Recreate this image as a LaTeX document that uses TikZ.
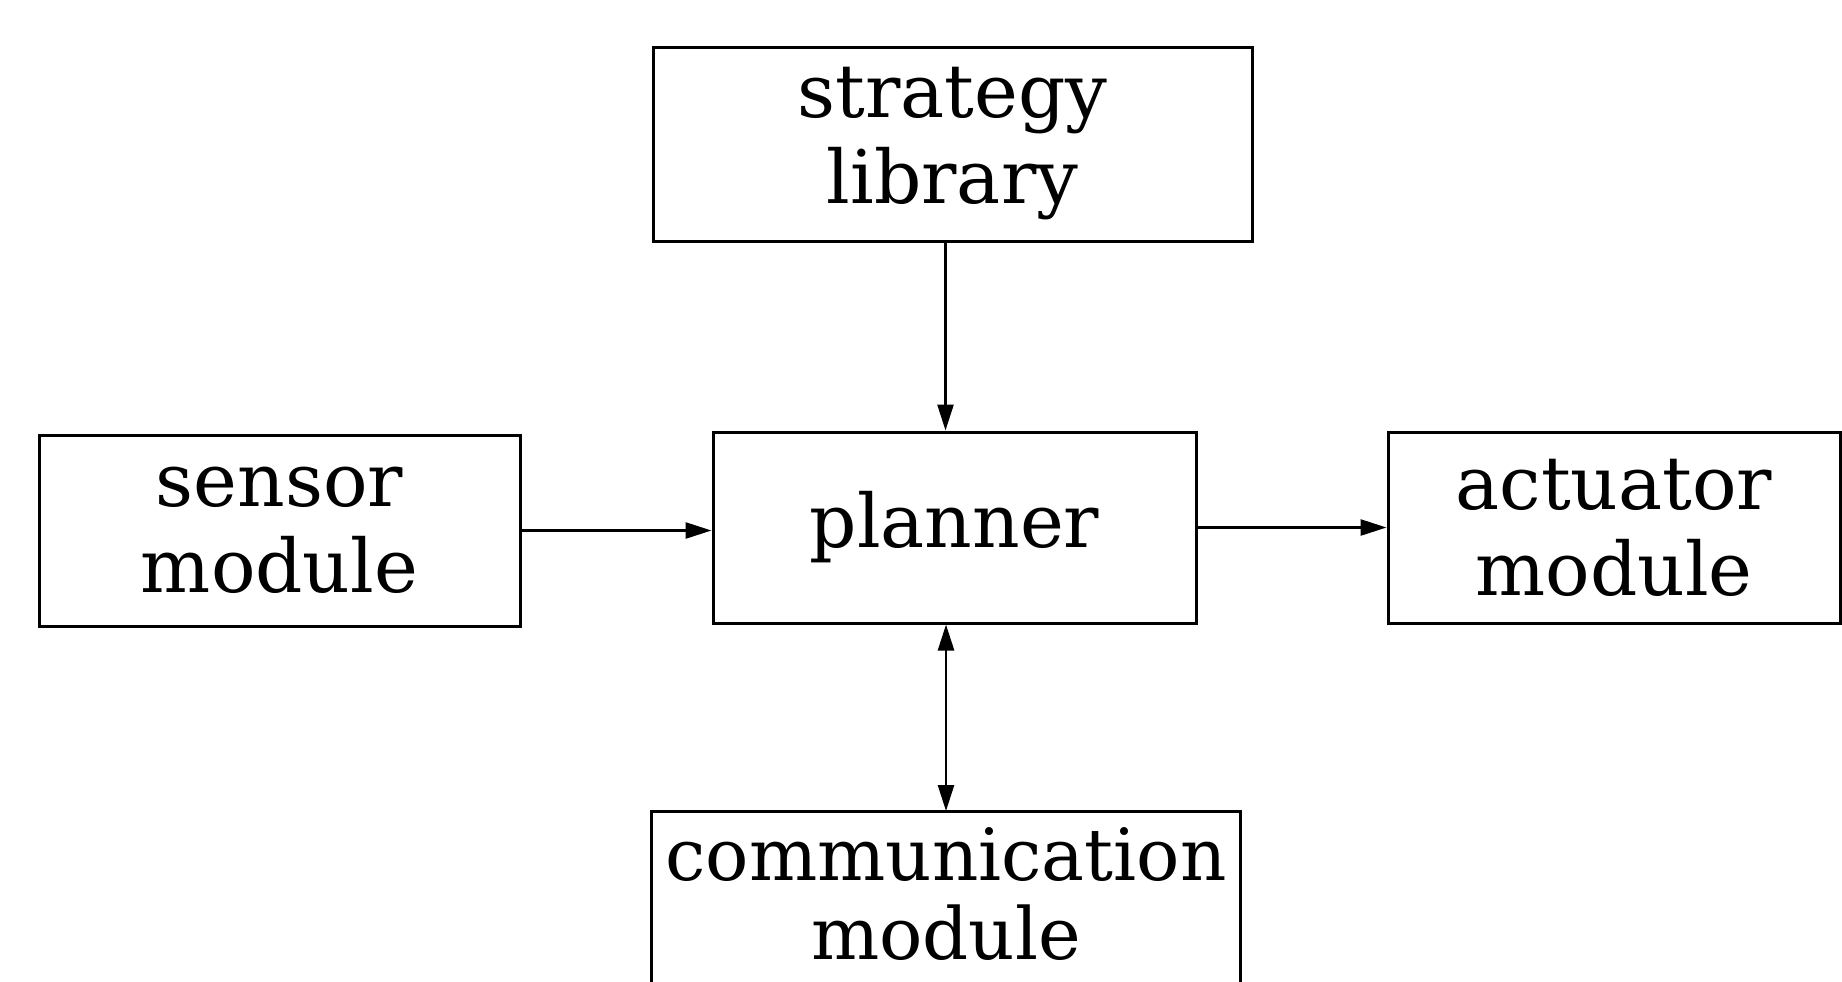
\documentclass[tikz,border=0pt]{standalone}
\usepackage{fontspec}
\setmainfont{DejaVu Serif}
\usetikzlibrary{arrows.meta}
\begin{document}
\begin{tikzpicture}[x=0.5pt,y=-0.5pt,
  box/.style={draw=black,line width=1.5pt,align=center,inner sep=0pt,
    font=\fontsize{37}{43}\selectfont},
  arr/.style={line width=1.3pt,-{Triangle[length=13pt,width=8pt]}},
  darr/.style={line width=1.3pt,{Triangle[length=13pt,width=8pt]}-{Triangle[length=13pt,width=8pt]}}]
\useasboundingbox (0,0) rectangle (1842,981);
\begin{scope}
\clip (0,0) rectangle (1842,981);
\node[box,minimum width=599*0.5pt,minimum height=194*0.5pt] (strategy) at (952.5,144) {strategy\\library};
\node[box,minimum width=481*0.5pt,minimum height=191*0.5pt] (sensor) at (279.5,530.5) {sensor\\module};
\node[box,minimum width=483*0.5pt,minimum height=191*0.5pt] (planner) at (954.5,527.5) {planner};
\node[box,minimum width=452*0.5pt,minimum height=191*0.5pt] (actuator) at (1614,527.5) {actuator\\module};
\node[box,draw=none,font=\fontsize{36}{39.5}\selectfont,minimum width=586*0.5pt,minimum height=164*0.5pt,anchor=north] (comm) at (946,811) {communication\\module};
\draw[line width=1.5pt] ([yshift=-20pt]comm.south west) -- (comm.north west) -- (comm.north east) -- ([yshift=-20pt]comm.south east);
\end{scope}
\draw[arr] ([xshift=-3.5pt]strategy.south) -- ([xshift=-3.5pt]strategy.south |- planner.north);
\draw[arr] (sensor.east) -- (sensor.east -| planner.west);
\draw[arr] (planner.east) -- (planner.east -| actuator.west);
\draw[darr] (comm.north |- planner.south) -- (comm.north);
\end{tikzpicture}
\end{document}
